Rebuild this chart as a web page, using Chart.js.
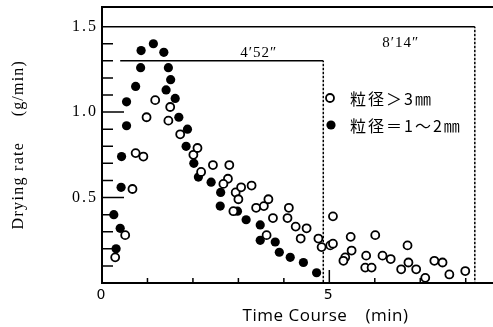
<!DOCTYPE html>
<html>
<head>
<meta charset="utf-8">
<script src="https://cdn.jsdelivr.net/npm/chart.js@4.4.0/dist/chart.umd.min.js"></script>
<style>
  html, body { margin: 0; padding: 0; background: #fff; }
  #wrap { width: 493px; height: 327px; }
</style>
</head>
<body>
<div id="wrap"><canvas id="dryChart" width="493" height="327"></canvas></div>
<script>
// open circles: particle size > 3 mm
const largeX = [0.29, 0.51, 0.67, 0.74, 0.91, 0.98, 1.17, 1.46, 1.50, 1.72, 2.01, 2.10, 2.18, 2.44, 2.80, 2.77, 2.67, 2.94, 3.06, 3.00, 3.29, 2.89, 3.39, 3.56, 3.66, 3.76, 3.62, 4.11, 4.08, 4.26, 4.50, 4.37, 4.76, 4.83, 5.02, 5.08, 5.08, 5.47, 5.49, 5.35, 5.31, 6.01, 5.81, 5.79, 5.93, 6.17, 6.35, 6.72, 6.74, 6.58, 6.91, 7.11, 7.31, 7.49, 7.64, 7.99];
const largeY = [0.15, 0.28, 0.55, 0.76, 0.74, 0.97, 1.07, 0.95, 1.03, 0.87, 0.75, 0.79, 0.65, 0.69, 0.69, 0.61, 0.58, 0.53, 0.56, 0.49, 0.57, 0.42, 0.44, 0.45, 0.49, 0.38, 0.28, 0.44, 0.38, 0.33, 0.32, 0.26, 0.26, 0.21, 0.22, 0.39, 0.23, 0.27, 0.19, 0.15, 0.13, 0.28, 0.16, 0.09, 0.09, 0.16, 0.14, 0.22, 0.12, 0.08, 0.08, 0.03, 0.13, 0.12, 0.05, 0.07];

// filled circles: particle size 1~2 mm
const smallX = [0.26, 0.31, 0.40, 0.42, 0.43, 0.54, 0.54, 0.74, 0.85, 0.86, 1.13, 1.36, 1.46, 1.51, 1.41, 1.61, 1.69, 1.88, 1.85, 2.02, 2.12, 2.40, 2.61, 2.60, 2.98, 3.17, 3.48, 3.48, 3.81, 3.90, 4.14, 4.43, 4.72];
const smallY = [0.40, 0.20, 0.32, 0.56, 0.74, 0.92, 1.06, 1.15, 1.26, 1.36, 1.40, 1.35, 1.26, 1.19, 1.13, 1.08, 0.97, 0.90, 0.80, 0.70, 0.62, 0.59, 0.53, 0.45, 0.42, 0.37, 0.34, 0.25, 0.24, 0.18, 0.15, 0.12, 0.06];

const seriesLabels = ['粒径＞3㎜', '粒径＝1～2㎜'];

// drying end markers
const endTimes = [4.867, 8.2];
const endLabels = ['4′52″', '8′14″'];
const plateauLevels = [1.3, 1.5];
const plateauStarts = [0.4, 0];

const xTickValues = [0, 5];
const xMinorTicks = [1, 2, 3, 4, 6, 7, 8];
const yTickValues = [0.5, 1.0, 1.5];
const yMinorTicks = [0.1, 0.2, 0.3, 0.4, 0.6, 0.7, 0.8, 0.9, 1.1, 1.2, 1.3, 1.4];

function toPoints(xs, ys) {
    return xs.map((x, i) => ({ x: x, y: ys[i] }));
}

function spacedText(ctx, text, x, y, font, spacing, align) {
    ctx.save();
    ctx.font = font;
    ctx.letterSpacing = spacing;
    ctx.textAlign = align || 'left';
    ctx.textBaseline = 'middle';
    ctx.fillStyle = '#000';
    ctx.fillText(text, x, y);
    ctx.restore();
}

const framePlugin = {
    id: 'frame',
    beforeDraw(chart) {
        chart.ctx.letterSpacing = '2px';
    },
    afterDraw(chart) {
        const ctx = chart.ctx;
        const xs = chart.scales.x;
        const ys = chart.scales.y;
        const area = chart.chartArea;
        ctx.letterSpacing = '0px';

        ctx.save();
        ctx.strokeStyle = '#000';
        // top frame line
        ctx.lineWidth = 2;
        ctx.beginPath();
        ctx.moveTo(area.left - 1, area.top);
        ctx.lineTo(chart.width, area.top);
        ctx.stroke();

        // inward ticks
        ctx.lineWidth = 1.5;
        ctx.beginPath();
        yMinorTicks.forEach(v => {
            const py = ys.getPixelForValue(v);
            ctx.moveTo(area.left, py);
            ctx.lineTo(area.left + 11, py);
        });
        [0.5, 1.0].forEach(v => {
            const py = ys.getPixelForValue(v);
            ctx.moveTo(area.left, py);
            ctx.lineTo(area.left + 22, py);
        });
        xMinorTicks.forEach(v => {
            const px = xs.getPixelForValue(v);
            ctx.moveTo(px, area.bottom);
            ctx.lineTo(px, area.bottom - 5);
        });
        const p5 = xs.getPixelForValue(5);
        ctx.moveTo(p5, area.bottom);
        ctx.lineTo(p5, area.bottom - 13);
        ctx.stroke();
        ctx.restore();

        // axis titles
        ctx.save();
        ctx.translate(19, ys.getPixelForValue(0.57));
        ctx.rotate(-Math.PI / 2);
        spacedText(ctx, 'Drying rate', 0, 0, '16px "Liberation Serif"', '1.3px', 'center');
        ctx.restore();
        ctx.save();
        ctx.translate(19, ys.getPixelForValue(1.14));
        ctx.rotate(-Math.PI / 2);
        spacedText(ctx, '(g/min)', 0, 0, '16px "Liberation Serif"', '1.2px', 'center');
        ctx.restore();
        spacedText(ctx, 'Time Course', 295, 316, '17px "Open Sans"', '0.5px', 'center');
        spacedText(ctx, '(min)', 387, 316, '17px "Open Sans"', '0.5px', 'center');

        // end time labels
        spacedText(ctx, endLabels[0], xs.getPixelForValue(3.45), ys.getPixelForValue(1.346), '15px "Liberation Serif"', '1px', 'center');
        spacedText(ctx, endLabels[1], xs.getPixelForValue(6.57), ys.getPixelForValue(1.405), '15px "Liberation Serif"', '1px', 'center');

        // legend
        ctx.save();
        ctx.strokeStyle = '#000';
        ctx.fillStyle = '#000';
        ctx.lineWidth = 1.8;
        ctx.beginPath();
        ctx.arc(330, 98, 4, 0, Math.PI * 2);
        ctx.stroke();
        ctx.beginPath();
        ctx.arc(331, 125, 4.6, 0, Math.PI * 2);
        ctx.fill();
        ctx.restore();
        spacedText(ctx, seriesLabels[0], 350, 99, '16px "Noto Sans CJK JP"', '2px');
        spacedText(ctx, seriesLabels[1], 350, 126, '16px "Noto Sans CJK JP"', '2px');
    }
};

const endLines = endTimes.map((t, i) => ({
    type: 'line',
    data: [
        { x: plateauStarts[i], y: plateauLevels[i] },
        { x: t, y: plateauLevels[i] },
        { x: t, y: 0 }
    ],
    borderColor: '#000',
    borderWidth: 1.5,
    pointRadius: 0,
    fill: false,
    tension: 0,
    clip: false,
    order: 3,
    segment: {
        borderDash: c => c.p0DataIndex === 1 ? [1.5, 2.5] : undefined
    }
}));

const ctx = document.getElementById('dryChart').getContext('2d');
const dryChart = new Chart(ctx, {
    type: 'scatter',
    data: {
        datasets: [
            {
                label: seriesLabels[0],
                data: toPoints(largeX, largeY),
                pointRadius: 4,
                pointBorderWidth: 1.8,
                pointBorderColor: '#000',
                pointBackgroundColor: '#fff',
                clip: false,
                order: 1
            },
            {
                label: seriesLabels[1],
                data: toPoints(smallX, smallY),
                pointRadius: 4.6,
                pointBorderWidth: 0,
                pointBorderColor: '#000',
                pointBackgroundColor: '#000',
                clip: false,
                order: 2
            },
            ...endLines
        ]
    },
    options: {
        responsive: false,
        animation: false,
        devicePixelRatio: 1,
        layout: { autoPadding: false, padding: { top: 7, right: 0, left: 0, bottom: 0 } },
        plugins: {
            legend: { display: false },
            tooltip: { enabled: false }
        },
        scales: {
            x: {
                type: 'linear',
                min: 0,
                max: 8.6,
                afterFit: s => {
                    s.height = 44;
                    s.paddingLeft = 0;
                    s.paddingRight = 0;
                },
                afterBuildTicks: s => { s.ticks = xTickValues.map(v => ({ value: v })); },
                grid: { display: false, drawTicks: false },
                border: { display: true, color: '#000', width: 2 },
                ticks: {
                    color: '#000',
                    font: { family: 'DejaVu Sans', size: 14 },
                    padding: 4,
                    maxRotation: 0,
                    callback: v => v.toFixed(0)
                }
            },
            y: {
                type: 'linear',
                min: 0,
                max: 1.615,
                afterFit: s => {
                    s.width = 102;
                    s.paddingTop = 0;
                    s.paddingBottom = 0;
                },
                afterBuildTicks: s => { s.ticks = yTickValues.map(v => ({ value: v })); },
                grid: { display: false, drawTicks: false },
                border: { display: true, color: '#000', width: 2 },
                ticks: {
                    color: '#000',
                    font: { family: 'Liberation Serif', size: 16 },
                    padding: 4,
                    callback: v => v.toFixed(1)
                }
            }
        }
    },
    plugins: [framePlugin]
});
</script>
</body>
</html>
